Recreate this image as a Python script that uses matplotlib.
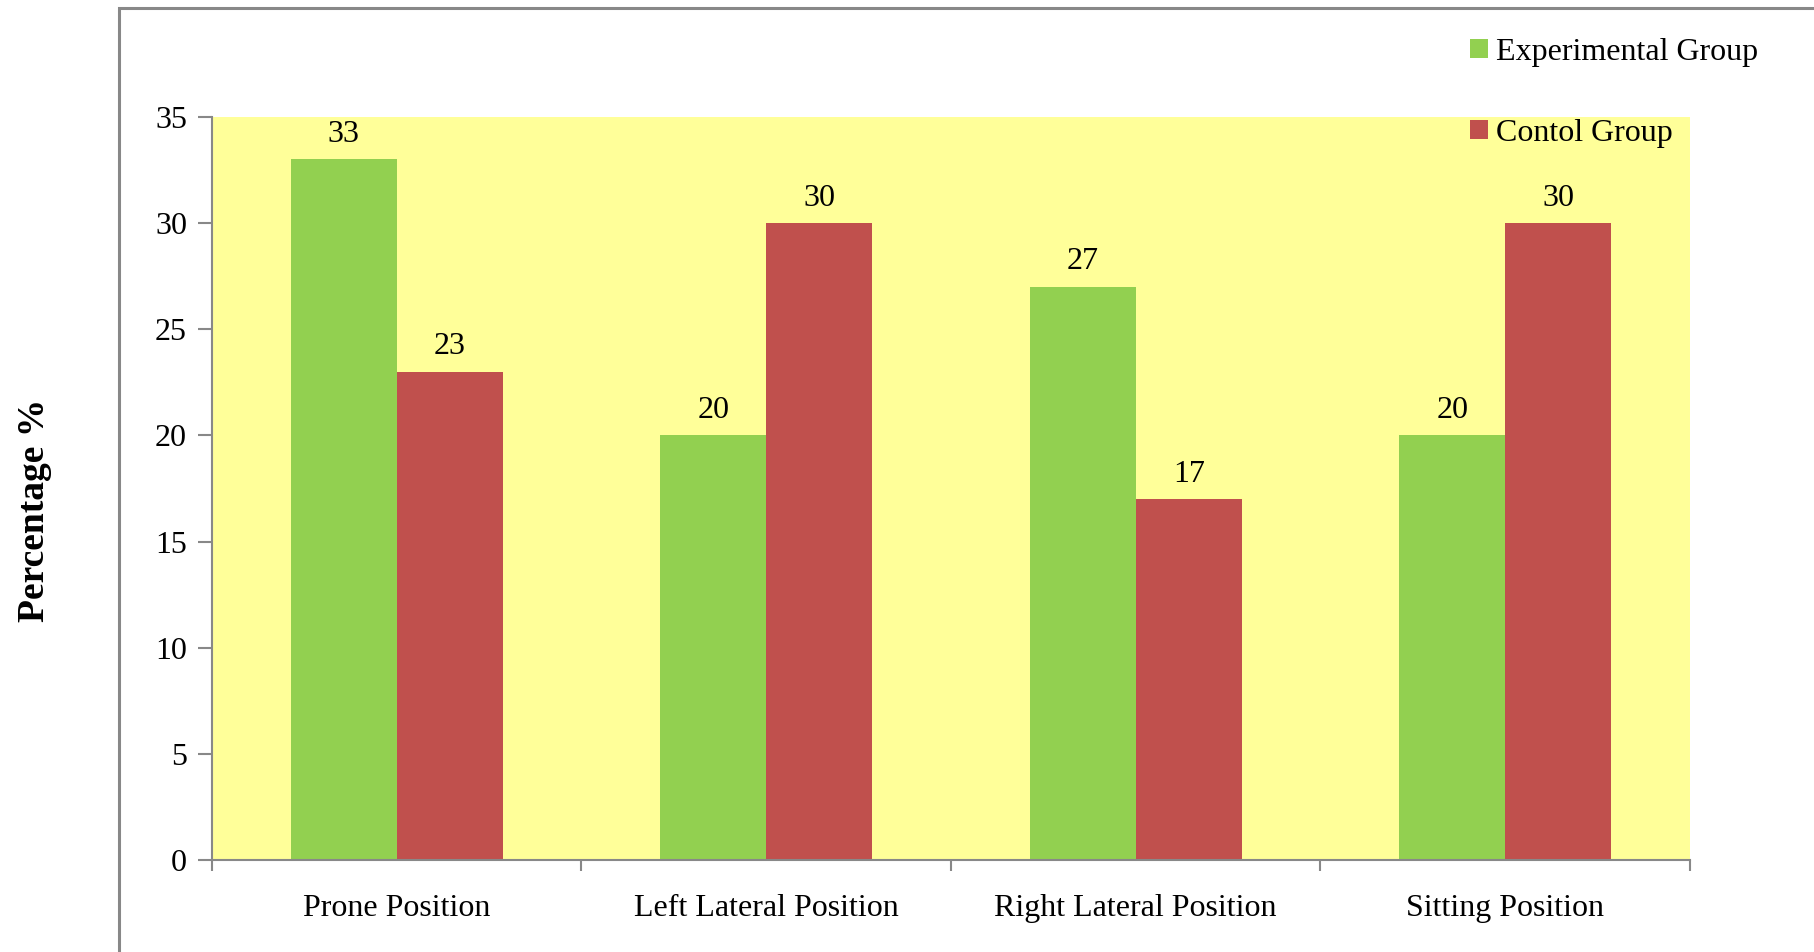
import matplotlib.pyplot as plt
import numpy as np
from matplotlib.patches import Rectangle

categories = ["Prone Position", "Left Lateral Position", "Right Lateral Position", "Sitting Position"]
experimental = [33, 20, 27, 20]
control = [23, 30, 17, 30]
series_names = ["Experimental Group", "Contol Group"]
y_ticks = [0, 5, 10, 15, 20, 25, 30, 35]

GREEN = "#92D050"
RED = "#C0504D"
PLOT_BG = "#FFFF99"
AXIS_GRAY = "#888888"

plt.rcParams["font.family"] = ["Liberation Serif", "DejaVu Serif"]
plt.rcParams["font.size"] = 23

W, H = 1815, 952
fig = plt.figure(figsize=(W / 100, H / 100), dpi=100)
fig.patch.set_facecolor("white")

# outer chart frame (only left and top edges fall inside the figure)
frame = Rectangle((119 / W, -0.1), 1.2, (H - 8) / H + 0.1, transform=fig.transFigure,
                  fill=False, edgecolor=AXIS_GRAY, linewidth=2.2)
fig.add_artist(frame)

ax = fig.add_axes([212 / W, (H - 860) / H, (1690 - 212) / W, (860 - 117) / H])
ax.set_facecolor(PLOT_BG)

x = np.arange(len(categories))
w = 0.287
b1 = ax.bar(x - w / 2, experimental, w, color=GREEN, label=series_names[0], zorder=2)
b2 = ax.bar(x + w / 2, control, w, color=RED, label=series_names[1], zorder=2)

for bars, vals in ((b1, experimental), (b2, control)):
    for rect, v in zip(bars, vals):
        ax.annotate(str(v), (rect.get_x() + rect.get_width() / 2, v),
                    xytext=(0, 7.5), textcoords="offset points",
                    ha="center", va="bottom", fontsize=23)

ax.set_xlim(-0.5, len(categories) - 0.5)
ax.set_ylim(0, 35)
ax.set_yticks(y_ticks)
ax.set_xticks(x)
ax.set_xticklabels(categories)
ax.set_xticks(np.arange(-0.5, len(categories)), minor=True)
ax.tick_params(axis="x", which="major", length=0, pad=24.5)
ax.tick_params(axis="x", which="minor", length=8, width=1.5, color=AXIS_GRAY, direction="out")
ax.tick_params(axis="y", length=10, width=1.5, color=AXIS_GRAY, pad=8)

for side in ("top", "right"):
    ax.spines[side].set_visible(False)
for side in ("left", "bottom"):
    ax.spines[side].set_color(AXIS_GRAY)
    ax.spines[side].set_linewidth(1.5)

fig.text(35 / W, 1 - 510 / H, "Percentage %", rotation=90, ha="center", va="center",
         fontsize=27, fontweight="bold")

fig.legend(handles=[b1, b2], labels=series_names, loc="upper left",
           bbox_to_anchor=(1470 / W, 1 - 38 / H), frameon=False,
           handlelength=0.55, handleheight=0.55, handletextpad=0.25,
           labelspacing=1.62, fontsize=23, borderaxespad=0, borderpad=0)

fig.savefig("out.png", dpi=100)
